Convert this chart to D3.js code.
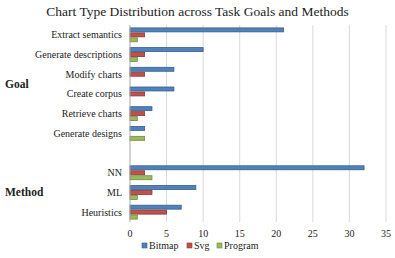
<!DOCTYPE html>
<html>
<head>
<meta charset="utf-8">
<script src="https://cdn.jsdelivr.net/npm/d3@7"></script>
<style>
  body { margin: 0; background: #fff; }
  #chart { width: 395px; height: 258px; }
  svg text { font-family: "Liberation Serif", "Times New Roman", "DejaVu Serif", serif; fill: #222; }
</style>
</head>
<body>
<div id="chart"></div>
<script>

// categories top to bottom ("" is the gap between groups)
const categories = ["Extract semantics", "Generate descriptions", "Modify charts", "Create corpus",
  "Retrieve charts", "Generate designs", "", "NN", "ML", "Heuristics"];
const seriesNames = ["Bitmap", "Svg", "Program"];
const bitmap  = [21, 10, 6, 6, 3, 2, null, 32, 9, 7];
const svgVals = [2, 2, 2, 2, 2, 0, null, 2, 3, 5];
const program = [1, 1, 0, 0, 1, 2, null, 3, 1, 1];
const xTicks = [0, 5, 10, 15, 20, 25, 30, 35];
const groups = [
  { label: "Goal", from: "Extract semantics", to: "Generate designs" },
  { label: "Method", from: "NN", to: "Heuristics" }
];

const width = 395, height = 258;
const margin = { top: 25, left: 130, right: 9, bottom: 36 };
const serif = "Liberation Serif, Times New Roman, serif";

const svg = d3.select("#chart").append("svg")
  .attr("width", width)
  .attr("height", height)
  .attr("font-family", serif);

const colors = { Bitmap: "#4F81BD", Svg: "#C0504D", Program: "#9BBB59" };
const strokes = { Bitmap: "#385D8A", Svg: "#8C3836", Program: "#71893F" };

const xScale = d3.scaleLinear()
  .domain([0, 35])
  .range([margin.left, width - margin.right]);

const yScale = d3.scaleBand()
  .domain(categories.map((d, i) => i))
  .range([margin.top, height - margin.bottom]);

const inner = d3.scaleBand()
  .domain(seriesNames)
  .range([2.4, yScale.bandwidth() - 2.4]);

// gridlines
svg.append("g")
  .selectAll("line")
  .data(xTicks.slice(1))
  .join("line")
  .attr("x1", d => xScale(d)).attr("x2", d => xScale(d))
  .attr("y1", margin.top).attr("y2", height - margin.bottom)
  .attr("stroke", "#d9d9d9")
  .attr("stroke-width", 1);

// bars
const rows = categories.map((c, i) => ({
  i: i,
  vals: [
    { s: "Bitmap", v: bitmap[i] },
    { s: "Svg", v: svgVals[i] },
    { s: "Program", v: program[i] }
  ].filter(d => d.v)
}));

svg.append("g")
  .selectAll("g")
  .data(rows)
  .join("g")
  .attr("transform", d => `translate(0,${yScale(d.i)})`)
  .selectAll("rect")
  .data(d => d.vals)
  .join("rect")
  .attr("x", xScale(0))
  .attr("y", d => inner(d.s) + 0.5)
  .attr("width", d => xScale(d.v) - xScale(0))
  .attr("height", inner.bandwidth() - 1)
  .attr("fill", d => colors[d.s])
  .attr("stroke", d => strokes[d.s])
  .attr("stroke-width", 0.8);

// left axis line
svg.append("line")
  .attr("x1", xScale(0)).attr("x2", xScale(0))
  .attr("y1", margin.top).attr("y2", height - margin.bottom)
  .attr("stroke", "#a6a6a6");

// category labels
svg.append("g")
  .selectAll("text")
  .data(categories)
  .join("text")
  .attr("x", xScale(0) - 8)
  .attr("y", (d, i) => yScale(i) + yScale.bandwidth() / 2 + 3.5)
  .attr("text-anchor", "end")
  .attr("font-family", serif)
  .attr("font-size", 10)
  .text(d => d);

// x tick labels
svg.append("g")
  .selectAll("text")
  .data(xTicks)
  .join("text")
  .attr("x", d => xScale(d))
  .attr("y", 237)
  .attr("text-anchor", "middle")
  .attr("font-family", serif)
  .attr("font-size", 10)
  .text(d => d);

// group labels
svg.append("g")
  .selectAll("text")
  .data(groups)
  .join("text")
  .attr("x", 5)
  .attr("y", d => (yScale(categories.indexOf(d.from)) + yScale(categories.indexOf(d.to)) + yScale.bandwidth()) / 2 + 4)
  .attr("font-family", serif)
  .attr("font-size", 11.5)
  .attr("font-weight", "bold")
  .text(d => d.label);

// title
svg.append("text")
  .attr("x", width / 2)
  .attr("y", 16)
  .attr("text-anchor", "middle")
  .attr("font-family", serif)
  .attr("font-size", 13.5)
  .text("Chart Type Distribution across Task Goals and Methods");

// legend
const legendX = [142, 187, 217];
const legend = svg.append("g")
  .selectAll("g")
  .data(seriesNames)
  .join("g")
  .attr("transform", (d, i) => `translate(${legendX[i]},248)`);

legend.append("rect")
  .attr("x", 0).attr("y", -5)
  .attr("width", 5).attr("height", 5)
  .attr("fill", d => colors[d])
  .attr("stroke", d => strokes[d])
  .attr("stroke-width", 0.6);

legend.append("text")
  .attr("x", 7)
  .attr("y", 0.5)
  .attr("font-family", serif)
  .attr("font-size", 10)
  .text(d => d);

</script>
</body>
</html>
